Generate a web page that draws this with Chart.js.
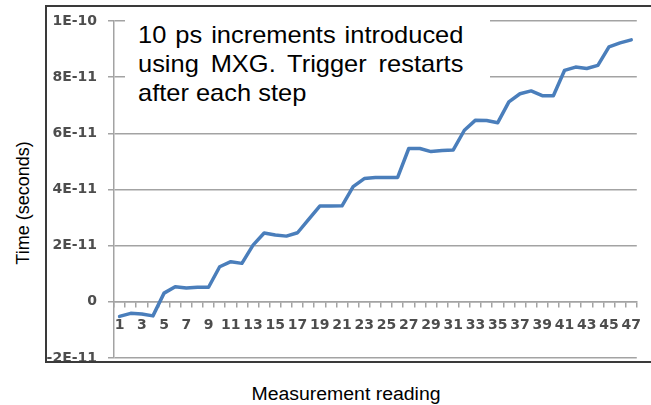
<!DOCTYPE html>
<html>
<head>
<meta charset="utf-8">
<script src="https://cdn.jsdelivr.net/npm/chart.js@4"></script>
<style>
  body { margin: 0; background: #fff; }
  #page { position: relative; width: 651px; height: 405px; overflow: hidden; font-family: "Liberation Sans", Arial, sans-serif; }
  #frame { position: absolute; left: 45px; top: 5px; width: 620px; height: 358px; border: 2px solid #3a3a3a; box-sizing: border-box; overflow: hidden; }
  #frame canvas { position: absolute; left: -47px; top: -7px; }
  #note { position: absolute; left: 125px; top: 12px; width: 365px; height: 106px; background: #fff; }
  #note .txt { position: absolute; left: 13px; top: 8px; width: 307px; font-size: 24px; line-height: 29px; color: #000; transform: scaleX(1.06); transform-origin: left top; }
  #note .j { text-align: justify; text-align-last: justify; }
  #ytitle { position: absolute; left: 23px; top: 203px; transform: translate(-50%, -50%) rotate(-90deg); font-size: 18px; white-space: nowrap; color: #000; }
  #xtitle { position: absolute; left: 346px; top: 384px; transform: translateX(-50%) scaleX(1.08); font-size: 18px; white-space: nowrap; color: #000; }
</style>
</head>
<body>
<div id="page">
  <div id="frame"><canvas id="chart" width="651" height="405"></canvas></div>
  <div id="note">
    <div class="txt">
      <div class="j">10 ps increments introduced</div>
      <div class="j">using MXG. Trigger restarts</div>
      <div>after each step</div>
    </div>
  </div>
  <div id="ytitle">Time (seconds)</div>
  <div id="xtitle">Measurement reading</div>
</div>
<script>
// lecturas (eje X)
const lecturas = ['1','2','3','4','5','6','7','8','9','10','11','12','13','14','15','16',
  '17','18','19','20','21','22','23','24','25','26','27','28','29','30','31','32',
  '33','34','35','36','37','38','39','40','41','42','43','44','45','46','47'];

// tiempo medido en segundos
const tiempos = [-5.2e-12, -4.1e-12, -4.3e-12, -5.0e-12, 3.1e-12, 5.4e-12, 4.9e-12, 5.2e-12,
  5.2e-12, 12.5e-12, 14.3e-12, 13.7e-12, 20.2e-12, 24.5e-12, 23.8e-12, 23.4e-12,
  24.6e-12, 29.4e-12, 34.1e-12, 34.1e-12, 34.2e-12, 41.0e-12, 43.9e-12, 44.3e-12,
  44.3e-12, 44.3e-12, 54.6e-12, 54.6e-12, 53.5e-12, 53.9e-12, 54.1e-12, 61.1e-12,
  64.7e-12, 64.6e-12, 63.8e-12, 71.2e-12, 74.1e-12, 75.1e-12, 73.4e-12, 73.4e-12,
  82.4e-12, 83.6e-12, 83.1e-12, 84.2e-12, 90.8e-12, 92.2e-12, 93.3e-12];

// marcas del eje Y
const ticksY = [-2e-11, 0, 2e-11, 4e-11, 6e-11, 8e-11, 1e-10];
const etiquetasY = ['-2E-11', '0', '2E-11', '4E-11', '6E-11', '8E-11', '1E-10'];

const colorGrilla = '#a3a3a3';
const fuenteEje = { family: 'DejaVu Sans', size: 14, weight: 'bold' };

new Chart(document.getElementById('chart').getContext('2d'), {
  type: 'line',
  data: {
    labels: lecturas,
    datasets: [{
      data: tiempos,
      borderColor: '#4a7ebb',
      borderWidth: 3.5,
      borderJoinStyle: 'round',
      borderCapStyle: 'round',
      pointRadius: 0,
      tension: 0,
      fill: false
    }]
  },
  options: {
    responsive: false,
    animation: false,
    layout: { padding: { left: 45, top: 21, right: 3, bottom: 47 } },
    plugins: { legend: { display: false }, tooltip: { enabled: false } },
    scales: {
      x: {
        type: 'category',
        position: { y: 0 },
        offset: true,
        grid: { offset: true, drawOnChartArea: false, drawTicks: true, tickLength: 5, color: colorGrilla, lineWidth: 1.5 },
        border: { display: true, color: colorGrilla, width: 1.5 },
        ticks: {
          autoSkip: false,
          maxRotation: 0,
          padding: 10,
          color: '#4d4d4d',
          font: fuenteEje,
          callback: (v, i) => (i % 2 === 0 ? lecturas[i] : '')
        }
      },
      y: {
        position: 'left',
        min: -2e-11,
        max: 1e-10,
        afterBuildTicks: (s) => { s.ticks = ticksY.map(v => ({ value: v })); },
        afterFit: (s) => { s.width = 69; },
        grid: { color: colorGrilla, lineWidth: 1.5, drawTicks: true, tickLength: 6 },
        border: { display: true, color: colorGrilla, width: 1.5 },
        ticks: {
          padding: 11,
          color: '#4d4d4d',
          font: fuenteEje,
          callback: (v, i) => etiquetasY[i]
        }
      }
    }
  }
});
</script>
</body>
</html>
